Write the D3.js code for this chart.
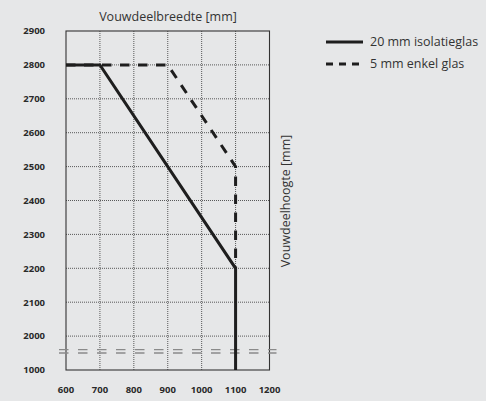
<!DOCTYPE html>
<html><head><meta charset="utf-8">
<script src="https://cdn.jsdelivr.net/npm/d3@7"></script>
<style>
html,body{margin:0;padding:0;background:#e6e7e8;}
svg{display:block;}
</style></head><body>
<svg id="c" width="486" height="401"></svg>
<script>
const xTicks = [600, 700, 800, 900, 1000, 1100, 1200];
const yTicks = [1900, 2000, 2100, 2200, 2300, 2400, 2500, 2600, 2700, 2800, 2900];
const yTickLabels = ["1000", "2000", "2100", "2200", "2300", "2400", "2500", "2600", "2700", "2800", "2900"];
const seriesNames = ["20 mm isolatieglas", "5 mm enkel glas"];
const isolatieX = [600, 700, 1100, 1100];
const isolatieY = [2800, 2800, 2200, 1900];
const enkelX = [600, 900, 1100, 1100];
const enkelY = [2800, 2800, 2500, 2200];
const breakValue = 1955;

const svg = d3.select("#c");
const x = d3.scaleLinear().domain([600, 1200]).range([66, 269.5]);
const y = d3.scaleLinear().domain([1900, 2900]).range([370, 31]);
const font = "'Open Sans', 'DejaVu Sans', sans-serif";

// grid
const g = svg.append("g");
g.selectAll(".vg").data(xTicks.slice(1, -1)).join("line")
  .attr("x1", d => x(d)).attr("x2", d => x(d)).attr("y1", y(2900)).attr("y2", y(1900))
  .attr("stroke", "#333").attr("stroke-width", 0.8).attr("stroke-dasharray", "1,1");
g.selectAll(".hg").data(yTicks.slice(1, -1)).join("line")
  .attr("y1", d => y(d)).attr("y2", d => y(d)).attr("x1", x(600)).attr("x2", x(1200))
  .attr("stroke", "#333").attr("stroke-width", 0.8).attr("stroke-dasharray", "1,1");

// frame
svg.append("rect").attr("x", x(600)).attr("y", y(2900)).attr("width", x(1200) - x(600)).attr("height", y(1900) - y(2900))
  .attr("fill", "none").attr("stroke", "#333").attr("stroke-width", 1.1);

// break marks
[-1.7, 1.7].forEach(o => {
  svg.append("line").attr("x1", x(600) - 7).attr("x2", x(1200) + 7)
    .attr("y1", y(breakValue) + o).attr("y2", y(breakValue) + o)
    .attr("stroke", "#8a8a8a").attr("stroke-width", 1.4).attr("stroke-dasharray", "9.5,9.5");
});

// lines
const line = d3.line().x(d => x(d[0])).y(d => y(d[1]));
svg.append("path").datum(enkelX.map((v, i) => [v, enkelY[i]])).attr("d", line)
  .attr("fill", "none").attr("stroke", "#1e1e1e").attr("stroke-width", 3).attr("stroke-dasharray", "9.5,8.5");
svg.append("path").datum(isolatieX.map((v, i) => [v, isolatieY[i]])).attr("d", line)
  .attr("fill", "none").attr("stroke", "#1e1e1e").attr("stroke-width", 3);

// ticks
svg.selectAll(".yl").data(yTicks).join("text")
  .attr("x", 45).attr("y", d => y(d)).attr("dy", "0.35em").attr("text-anchor", "end")
  .attr("font-family", font).attr("font-weight", "bold").attr("font-size", 9.5).attr("fill", "#2a2a2a")
  .text((d, i) => yTickLabels[i]);
svg.selectAll(".xl").data(xTicks).join("text")
  .attr("x", d => x(d)).attr("y", 390).attr("dy", "0.35em").attr("text-anchor", "middle")
  .attr("font-family", font).attr("font-weight", "bold").attr("font-size", 9.5).attr("fill", "#2a2a2a")
  .text(d => d);

// titles
svg.append("text").attr("x", 168).attr("y", 17).attr("dy", "0.35em").attr("text-anchor", "middle")
  .attr("font-family", font).attr("font-size", 12.5).attr("fill", "#333").text("Vouwdeelbreedte [mm]");
svg.append("text").attr("transform", "translate(286,201) rotate(-90)").attr("dy", "0.35em").attr("text-anchor", "middle")
  .attr("font-family", font).attr("font-size", 12.5).attr("fill", "#333").text("Vouwdeelhoogte [mm]");

// legend
seriesNames.forEach((n, i) => {
  const ly = 42 + i * 22;
  svg.append("line").attr("x1", 326).attr("x2", 363).attr("y1", ly).attr("y2", ly)
    .attr("stroke", "#1e1e1e").attr("stroke-width", 3).attr("stroke-dasharray", i ? "7,6" : null);
  svg.append("text").attr("x", 370).attr("y", ly).attr("dy", "0.35em")
    .attr("font-family", font).attr("font-size", 12.5).attr("fill", "#333").text(n);
});
</script></body></html>
